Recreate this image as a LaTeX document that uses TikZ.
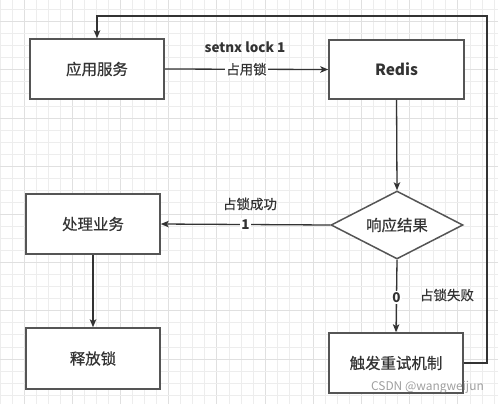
\documentclass[tikz,border=0pt]{standalone}
\usepackage{fontspec}
\newfontfamily\cjk{Noto Sans CJK SC}
\newfontfamily\cjkm{Noto Sans CJK SC}[FakeBold=0.5]
\usetikzlibrary{shapes.geometric,arrows.meta}
\definecolor{boxline}{HTML}{555555}
\definecolor{conline}{HTML}{333333}
\definecolor{txt}{HTML}{333333}
\definecolor{gridminor}{HTML}{EDEDED}
\definecolor{gridmajor}{HTML}{E0E0E0}
\tikzset{
  box/.style={draw=boxline, line width=1.5bp, fill=white, minimum width=134bp, minimum height=60bp, inner sep=0pt, font=\cjkm\fontsize{15.5}{18}\selectfont, text=txt},
  decision/.style={diamond, draw=boxline, line width=1.5bp, fill=white, shape aspect=2, minimum width=132bp, minimum height=68bp, inner sep=0pt, font=\cjkm\fontsize{15.5}{18}\selectfont, text=txt},
  conn/.style={draw=conline, line width=1.3bp, -{Stealth[length=8bp,width=6.5bp,inset=2bp]}},
  lbl/.style={font=\cjkm\fontsize{13.5}{16}\selectfont, text=txt, inner sep=1pt},
  bl/.style={font=\cjk\bfseries\fontsize{13.5}{16}\selectfont},
  onlbl/.style={lbl, fill=white, inner sep=1.5pt},
}
\begin{document}
\begin{tikzpicture}[x=1bp, y=-1bp]
\useasboundingbox (0,0) rectangle (498,404);
\fill[white] (0,0) rectangle (498,404);
% grid
\foreach \k in {0,...,41} {
  \pgfmathtruncatemacro{\m}{mod(\k,4)}
  \ifnum\m=2
    \draw[gridmajor, line width=0.9bp] (12.05*\k,0) -- (12.05*\k,404);
  \else
    \draw[gridminor, line width=0.9bp] (12.05*\k,0) -- (12.05*\k,404);
  \fi
}
\foreach \k in {1,...,34} {
  \pgfmathtruncatemacro{\m}{mod(\k,4)}
  \ifnum\m=2
    \draw[gridmajor, line width=0.9bp] (0,12.05*\k-2.5) -- (498,12.05*\k-2.5);
  \else
    \draw[gridminor, line width=0.9bp] (0,12.05*\k-2.5) -- (498,12.05*\k-2.5);
  \fi
}
% nodes
\node[box] (app) at (97,69) {应用服务};
\node[box, minimum width=135bp, minimum height=59bp, font=\cjk\bfseries\fontsize{15.5}{18}\selectfont] (redis) at (396.5,69.5) {Redis};
\node[decision] (res) at (397,225) {响应结果};
\node[box] (proc) at (93,224) {处理业务};
\node[box, minimum height=61bp] (rel) at (93,358.5) {释放锁};
\node[box] (retry) at (396,363) {触发重试机制};
\coordinate (c1) at (487,16);
% connectors
\draw[conn] (app.east) -- node[onlbl] (l1) {占用锁} (redis.west);
\node[lbl, bl] (l0) at (245,47) {setnx lock 1};
\draw[conn] (redis.south) -- (res.north);
\draw[conn] (res.west) -- node[onlbl, bl] (l2) {1} (proc.east);
\node[lbl] (l3) at (250,204) {占锁成功};
\draw[conn] (proc.south) -- (rel.north);
\draw[conn] (res.south) -- node[onlbl, bl, pos=0.52] (l4) {0} (retry.north);
\node[lbl] (l5) at (447,295) {占锁失败};
\draw[conn] (retry.east) -| (c1) -| (app.north);
% watermark
\node[font=\cjk\fontsize{12}{14}\selectfont, text=gray, opacity=0.75, anchor=east, inner sep=0pt] (wm) at (484,387) {CSDN @wangweijun};
\end{tikzpicture}
\end{document}
